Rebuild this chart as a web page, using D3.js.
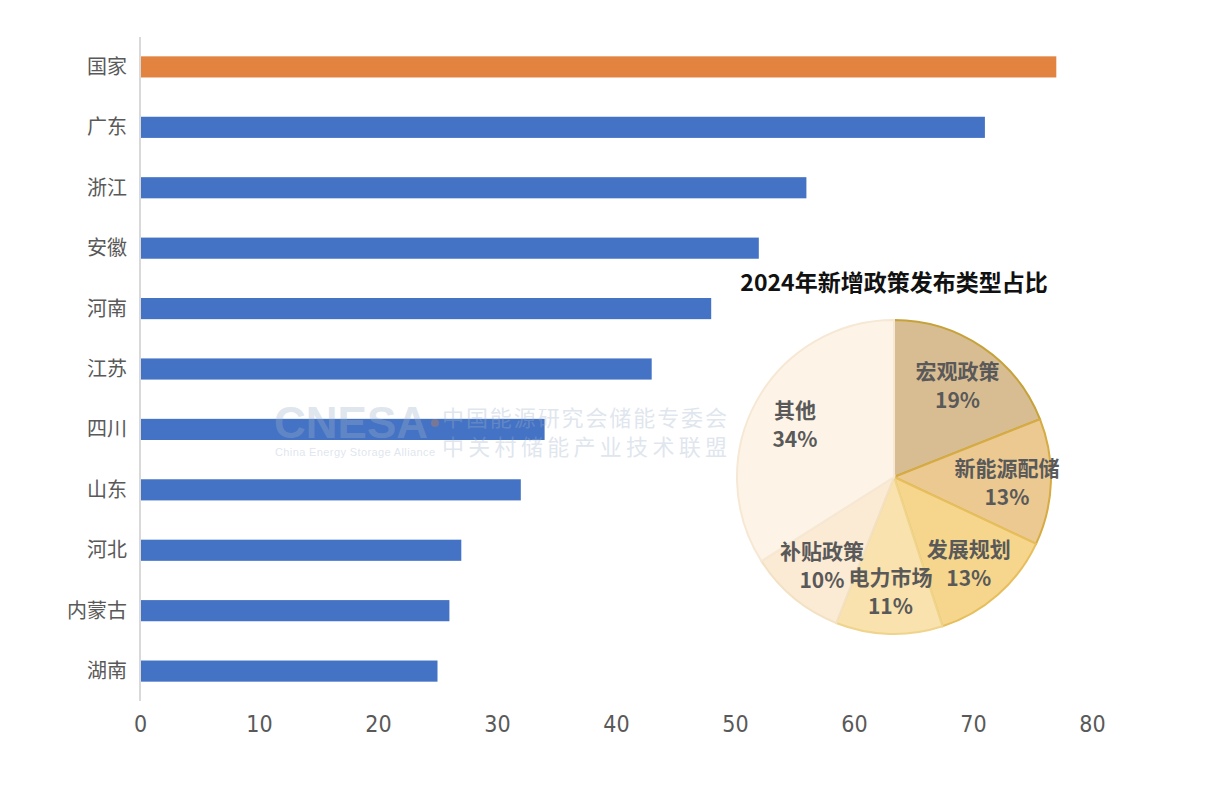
<!DOCTYPE html>
<html>
  <head>
    <meta charset="utf-8">
    <title>储能政策统计</title>
    <script src="https://d3js.org/d3.v7.min.js"></script>
    <style>
      body { margin: 0; background: #fff; }
      text { font-family: "Noto Sans CJK SC", "Noto Sans", sans-serif; }
    </style>
  </head>
  <body>
    <div id="chart"></div>
    <script>
      // Bar data: number of new policies by region
      var regions = ["国家", "广东", "浙江", "安徽", "河南", "江苏", "四川", "山东", "河北", "内蒙古", "湖南"];
      var counts = [77, 71, 56, 52, 48, 43, 34, 32, 27, 26, 25];
      var xTicks = [0, 10, 20, 30, 40, 50, 60, 70, 80];

      // Pie data: policy types share
      var pieTitle = "2024年新增政策发布类型占比";
      var types = ["宏观政策", "新能源配储", "发展规划", "电力市场", "补贴政策", "其他"];
      var shares = [19, 13, 13, 11, 10, 34];
      var pieFills = ["#d9bd92", "#ebc991", "#f6d68c", "#f9e2ad", "#fcebd4", "#fdf4e7"];
      var pieStrokes = ["#c6a23a", "#d6ab42", "#e6be5c", "#efd48c", "#f3e1c4", "#f6e8d4"];

      var W = 1214, H = 790;

      var svg = d3.select("#chart")
                  .append("svg")
                  .attr("width", W)
                  .attr("height", H);

      // Scales
      var xScale = d3.scaleLinear()
                     .domain([0, 80])
                     .range([140, 1092]);
      var yScale = d3.scaleBand()
                     .domain(regions)
                     .range([37, 701])
                     .paddingInner(0.65)
                     .paddingOuter(0.32);

      // Bars
      svg.selectAll(".bar")
         .data(regions)
         .enter()
         .append("rect")
         .attr("class", "bar")
         .attr("x", xScale(0))
         .attr("y", function(d) { return yScale(d); })
         .attr("width", function(d, i) { return xScale(counts[i]) - xScale(0); })
         .attr("height", yScale.bandwidth())
         .attr("fill", function(d, i) { return i === 0 ? "#e2833f" : "#4472c4"; });

      // Vertical axis line + category labels
      svg.append("line")
         .attr("x1", xScale(0)).attr("x2", xScale(0))
         .attr("y1", 37).attr("y2", 701)
         .attr("stroke", "#d9d9d9")
         .attr("stroke-width", 2);

      svg.selectAll(".cat")
         .data(regions)
         .enter()
         .append("text")
         .attr("class", "cat")
         .attr("x", 127)
         .attr("y", function(d) { return yScale(d) + yScale.bandwidth() / 2; })
         .attr("dy", "0.35em")
         .attr("text-anchor", "end")
         .attr("fill", "#595959")
         .style("font-size", "20px")
         .text(function(d) { return d; });

      // Bottom tick labels
      var xAxis = svg.append("g")
                     .attr("transform", "translate(0,716)")
                     .call(d3.axisBottom(xScale).tickValues(xTicks).tickSize(0).tickPadding(0));
      xAxis.select(".domain").remove();
      xAxis.selectAll("text")
           .attr("dy", "0.71em")
           .attr("fill", "#595959")
           .style("font-family", "'Liberation Sans Narrow', 'DejaVu Sans Condensed', sans-serif")
           .style("font-stretch", "condensed")
           .style("font-size", "23px");

      // Watermark
      var wm = svg.append("g").attr("opacity", 0.32);
      wm.append("text")
        .attr("x", 274).attr("y", 438)
        .attr("fill", "#9fb2cc")
        .style("font-family", "'Liberation Sans', sans-serif")
        .style("font-weight", "bold")
        .style("font-size", "44px")
        .text("CNESA");
      wm.append("circle")
        .attr("cx", 435).attr("cy", 423).attr("r", 4)
        .attr("fill", "#e2833f");
      wm.append("text")
        .attr("x", 275).attr("y", 456)
        .attr("fill", "#9fb2cc")
        .style("font-family", "'Liberation Sans', sans-serif")
        .style("font-size", "11px")
        .attr("textLength", 160)
        .text("China Energy Storage Alliance");
      wm.append("text")
        .attr("x", 442).attr("y", 426)
        .attr("fill", "#9fb2cc")
        .style("font-size", "22px")
        .attr("textLength", 285)
        .text("中国能源研究会储能专委会");
      wm.append("text")
        .attr("x", 442).attr("y", 455)
        .attr("fill", "#9fb2cc")
        .style("font-size", "22px")
        .attr("textLength", 285)
        .text("中关村储能产业技术联盟");

      // Pie chart
      var cx = 894, cy = 477, r = 157;
      var pie = d3.pie().sort(null).value(function(d) { return d; });
      var arc = d3.arc().innerRadius(0).outerRadius(r);
      var labelArc = d3.arc().innerRadius(r * 0.72).outerRadius(r * 0.72);
      var arcs = pie(shares);

      var pg = svg.append("g").attr("transform", "translate(" + cx + "," + cy + ")");

      pg.selectAll(".slice")
        .data(arcs)
        .enter()
        .append("path")
        .attr("class", "slice")
        .attr("d", arc)
        .attr("fill", function(d, i) { return pieFills[i]; })
        .attr("stroke", function(d, i) { return pieStrokes[i]; })
        .attr("stroke-width", 2);

      var lbl = pg.selectAll(".plabel")
                  .data(arcs)
                  .enter()
                  .append("text")
                  .attr("class", "plabel")
                  .attr("transform", function(d) { return "translate(" + labelArc.centroid(d) + ")"; })
                  .attr("text-anchor", "middle")
                  .attr("fill", "#595959")
                  .style("font-size", "21px")
                  .style("font-weight", "bold");
      lbl.append("tspan")
         .attr("x", 0).attr("y", -5)
         .text(function(d, i) { return types[i]; });
      lbl.append("tspan")
         .attr("x", 0).attr("y", 24)
         .text(function(d) { return d.data + "%"; });

      // Pie title
      svg.append("text")
         .attr("x", cx)
         .attr("y", 291)
         .attr("text-anchor", "middle")
         .attr("fill", "#111")
         .style("font-size", "23px")
         .style("font-weight", "bold")
         .text(pieTitle);
    </script>
  </body>
</html>
